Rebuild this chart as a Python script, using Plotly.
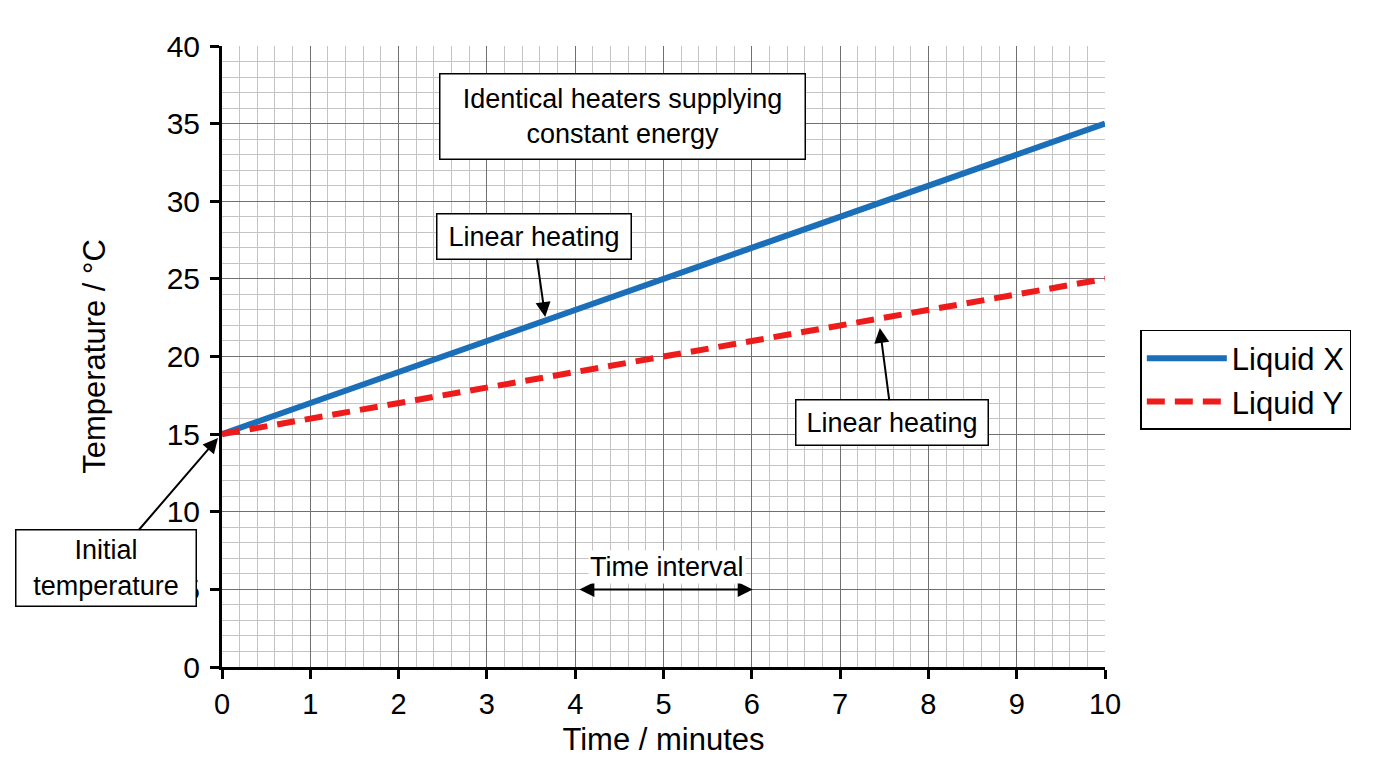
import plotly.graph_objects as go

time_min = [0, 1, 2, 3, 4, 5, 6, 7, 8, 9, 10]
liquid_x = [15, 17, 19, 21, 23, 25, 27, 29, 31, 33, 35]
liquid_y = [15, 16, 17, 18, 19, 20, 21, 22, 23, 24, 25]
x_ticks = [0, 1, 2, 3, 4, 5, 6, 7, 8, 9, 10]
y_ticks = [0, 5, 10, 15, 20, 25, 30, 35, 40]

FONT = "Liberation Sans, Arial, sans-serif"

fig = go.Figure()
fig.add_trace(go.Scatter(x=time_min, y=liquid_x, mode="lines", name="Liquid X",
                         line=dict(color="#1a6fb8", width=6)))
fig.add_trace(go.Scatter(x=time_min, y=liquid_y, mode="lines", name="Liquid Y",
                         line=dict(color="#ee1b1b", width=6, dash="18px,10px")))

box = dict(bordercolor="black", borderwidth=1.5, bgcolor="white",
           font=dict(size=27, color="black", family=FONT))
arrow = dict(showarrow=True, arrowhead=2, arrowsize=1.5, arrowwidth=2,
             arrowcolor="black", axref="x", ayref="y")

fig.add_annotation(x=4.53, y=35.49, text="Identical heaters supplying<br>constant energy",
                   showarrow=False, width=362, height=82, borderpad=1, **box)
fig.add_annotation(x=3.66, y=22.54, ax=3.53, ay=27.76, text="Linear heating",
                   width=191, height=42, borderpad=1, **box, **arrow)
fig.add_annotation(x=7.45, y=21.84, ax=7.59, ay=15.72, text="Linear heating",
                   width=189, height=42, borderpad=1, **box, **arrow)
fig.add_annotation(xref="paper", yref="paper", x=-0.0045, y=0.3688, ax=-112, ay=130,
                   text="Initial<br>temperature", width=177, height=73, borderpad=1,
                   showarrow=True, arrowhead=2, arrowsize=1.5, arrowwidth=2,
                   arrowcolor="black", **box)
fig.add_annotation(x=6.01, y=5, ax=4.03, ay=5, text="", arrowside="end+start",
                   **arrow)
fig.add_annotation(x=5.04, y=6.44, text="Time interval", showarrow=False,
                   bgcolor="white", font=dict(size=27, color="black", family=FONT))

fig.update_layout(
    width=1360, height=752,
    margin=dict(l=214, r=263, t=38, b=93),
    plot_bgcolor="white", paper_bgcolor="white",
    font=dict(family=FONT, color="black"),
    showlegend=True,
    legend=dict(x=1.04, y=0.5427, xanchor="left", yanchor="top",
                bordercolor="black", borderwidth=1.5, bgcolor="white",
                font=dict(size=31, family=FONT), itemwidth=80, tracegroupgap=0),
    xaxis=dict(range=[0, 10], tickvals=x_ticks, ticktext=[str(v) for v in x_ticks],
               showgrid=True, gridcolor="#707070", gridwidth=1.2,
               minor=dict(dtick=0.2, showgrid=True, gridcolor="#c4c4c4", gridwidth=1),
               showline=True, linecolor="black", linewidth=3,
               ticks="outside", ticklen=9, tickwidth=3, tickcolor="black",
               tickfont=dict(size=29), zeroline=False, automargin=False,
               title=dict(text="Time / minutes", font=dict(size=31), standoff=10)),
    yaxis=dict(range=[0, 40], tickvals=y_ticks, ticktext=[str(v) for v in y_ticks],
               showgrid=True, gridcolor="#707070", gridwidth=1.2,
               minor=dict(dtick=1, showgrid=True, gridcolor="#c4c4c4", gridwidth=1),
               showline=True, linecolor="black", linewidth=3,
               ticks="outside", ticklen=9, tickwidth=3, tickcolor="black",
               tickfont=dict(size=30), zeroline=False, automargin=False,
               ticklabelstandoff=4,
               title=dict(text="Temperature / °C", font=dict(size=31), standoff=52)),
)

fig.write_html("out.html")
